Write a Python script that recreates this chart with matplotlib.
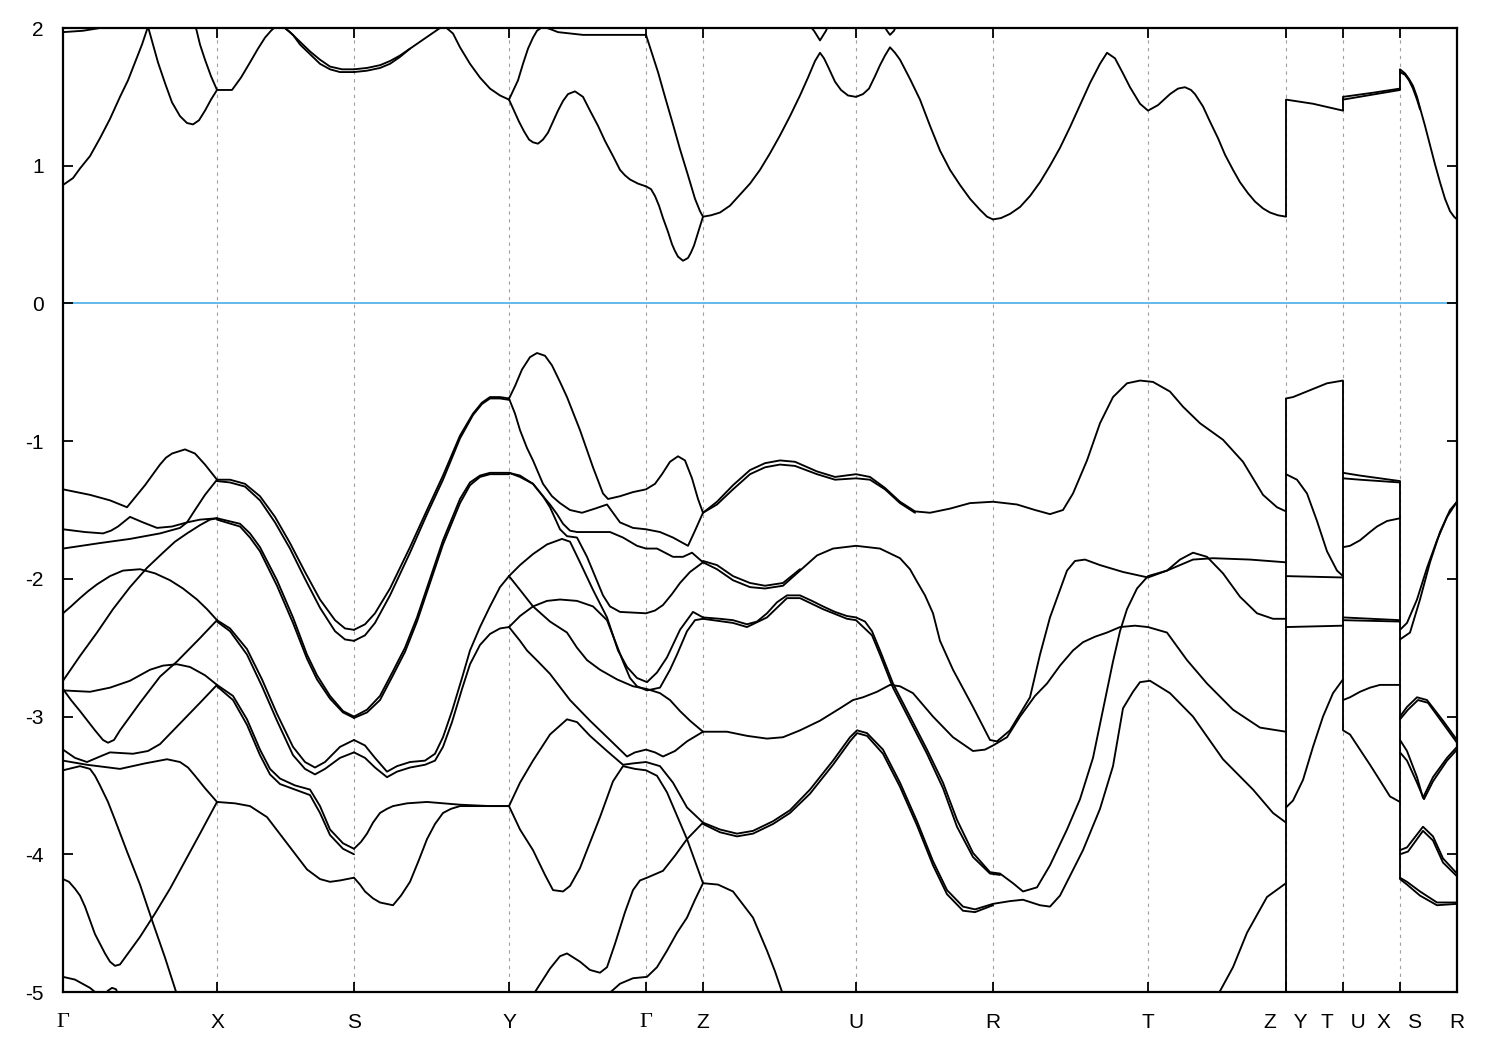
import matplotlib
matplotlib.use("Agg")
import matplotlib.pyplot as plt

# ---------------- k-path ----------------
kpath_ticks = [0.00, 1.54, 2.91, 4.46, 5.83, 6.40, 7.93, 9.30, 10.85, 12.23, 12.80, 13.37, 13.94]
kpath_labels = ["Γ", "X", "S", "Y", "Γ", "Z", "U", "R", "T", "Z   Y", "T   U", "X   S", "R"]
y_ticks = [-5, -4, -3, -2, -1, 0, 1, 2]

# ---------------- conduction bands (k, E) ----------------
c_gx1 = [(0, 0.86), (0.10, 0.91), (0.17, 0.98), (0.27, 1.07), (0.37, 1.20), (0.47, 1.34), (0.57, 1.50),
         (0.65, 1.62), (0.72, 1.75), (0.79, 1.88), (0.85, 2.01), (0.90, 1.88), (0.95, 1.75), (1.02, 1.60),
         (1.09, 1.46), (1.17, 1.36), (1.24, 1.31), (1.30, 1.30), (1.36, 1.33), (1.42, 1.40), (1.48, 1.48),
         (1.54, 1.55)]
c_gx2 = [(1.30, 2.08), (1.33, 2.0), (1.37, 1.88), (1.42, 1.77), (1.48, 1.65), (1.54, 1.55)]
c_gx3 = [(0, 1.97), (0.2, 1.98), (0.37, 2.0), (0.45, 2.03)]
c_xs = [(1.54, 1.55), (1.69, 1.55), (1.78, 1.64), (1.87, 1.75), (1.95, 1.85), (2.02, 1.93), (2.08, 1.98),
        (2.14, 2.02), (2.20, 2.01), (2.27, 1.97), (2.37, 1.90), (2.47, 1.83), (2.57, 1.77), (2.67, 1.72),
        (2.79, 1.70), (2.91, 1.70)]
c_xs_b = [(2.22, 2.0), (2.30, 1.95), (2.37, 1.88), (2.47, 1.81), (2.57, 1.74), (2.67, 1.70), (2.77, 1.68),
          (2.91, 1.68)]
c_sy = [(2.91, 1.70), (3.04, 1.71), (3.17, 1.73), (3.27, 1.76), (3.37, 1.80), (3.47, 1.85), (3.57, 1.90),
        (3.67, 1.95), (3.77, 2.0), (3.82, 2.01), (3.90, 1.96), (3.97, 1.86), (4.07, 1.74), (4.17, 1.64),
        (4.27, 1.56), (4.37, 1.51), (4.46, 1.48)]
c_sy_b = [(2.91, 1.68), (3.04, 1.69), (3.17, 1.71), (3.27, 1.74), (3.37, 1.79), (3.47, 1.85)]
c_yg1 = [(4.46, 1.48), (4.55, 1.62), (4.60, 1.74), (4.65, 1.85), (4.70, 1.93), (4.74, 1.98), (4.80, 2.01),
         (4.88, 1.99), (4.95, 1.97), (5.2, 1.95), (5.5, 1.95), (5.83, 1.95)]
c_yg2 = [(4.46, 1.48), (4.51, 1.40), (4.56, 1.32), (4.61, 1.25), (4.66, 1.19), (4.70, 1.17), (4.75, 1.16),
         (4.80, 1.19), (4.85, 1.24), (4.90, 1.32), (4.95, 1.40), (5.00, 1.47), (5.05, 1.52), (5.12, 1.54),
         (5.20, 1.50), (5.27, 1.40), (5.35, 1.29), (5.42, 1.18), (5.50, 1.07), (5.57, 0.97), (5.62, 0.93),
         (5.67, 0.90), (5.75, 0.87), (5.83, 0.85)]
c_gz1 = [(5.83, 1.95), (5.87, 1.86), (5.95, 1.68), (6.02, 1.50), (6.10, 1.30), (6.17, 1.12), (6.25, 0.93),
         (6.32, 0.76), (6.37, 0.67), (6.40, 0.63)]
c_gz2 = [(5.83, 0.85), (5.88, 0.83), (5.92, 0.78), (5.96, 0.71), (6.00, 0.62), (6.05, 0.52), (6.09, 0.43),
         (6.12, 0.38), (6.15, 0.34), (6.20, 0.31), (6.25, 0.33), (6.28, 0.37), (6.31, 0.42), (6.34, 0.49),
         (6.37, 0.56), (6.40, 0.63)]
c_zur = [(6.40, 0.63), (6.48, 0.64), (6.57, 0.66), (6.67, 0.71), (6.77, 0.79), (6.87, 0.87), (6.97, 0.97),
         (7.07, 1.09), (7.17, 1.22), (7.27, 1.36), (7.37, 1.51), (7.45, 1.64), (7.52, 1.76), (7.57, 1.82),
         (7.61, 1.78), (7.65, 1.72), (7.72, 1.61), (7.78, 1.55), (7.85, 1.51), (7.93, 1.50), (8.00, 1.52),
         (8.06, 1.56), (8.12, 1.65), (8.17, 1.73), (8.22, 1.80), (8.27, 1.86), (8.32, 1.82), (8.37, 1.77),
         (8.47, 1.63), (8.57, 1.48), (8.67, 1.29), (8.77, 1.11), (8.87, 0.97), (8.97, 0.86), (9.07, 0.76),
         (9.17, 0.68), (9.24, 0.63), (9.30, 0.61)]
c_v1 = [(7.45, 2.03), (7.51, 1.98), (7.57, 1.91), (7.63, 1.98), (7.66, 2.03)]
c_v2 = [(8.20, 2.03), (8.24, 1.98), (8.27, 1.95), (8.31, 1.98), (8.34, 2.03)]
c_rtz = [(9.30, 0.61), (9.38, 0.62), (9.47, 0.65), (9.57, 0.70), (9.67, 0.78), (9.77, 0.88), (9.87, 1.00),
         (9.97, 1.13), (10.07, 1.28), (10.17, 1.44), (10.27, 1.60), (10.37, 1.74), (10.44, 1.82),
         (10.52, 1.78), (10.60, 1.67), (10.67, 1.57), (10.77, 1.45), (10.85, 1.40), (10.95, 1.44),
         (11.07, 1.52), (11.15, 1.56), (11.22, 1.57), (11.28, 1.55), (11.32, 1.52), (11.40, 1.43),
         (11.47, 1.32), (11.55, 1.20), (11.62, 1.08), (11.70, 0.97), (11.77, 0.88), (11.85, 0.80),
         (11.92, 0.74), (12.00, 0.69), (12.07, 0.66), (12.15, 0.64), (12.23, 0.63)]
c_yt = [(12.23, 1.48), (12.50, 1.45), (12.80, 1.40)]
c_ux1 = [(12.80, 1.48), (13.37, 1.55)]
c_ux2 = [(12.80, 1.50), (13.10, 1.53), (13.37, 1.56)]
c_sr = [(13.37, 1.70), (13.42, 1.67), (13.46, 1.63), (13.50, 1.58), (13.54, 1.50), (13.57, 1.42),
        (13.62, 1.29), (13.67, 1.15), (13.72, 1.01), (13.77, 0.88), (13.82, 0.76), (13.87, 0.67),
        (13.91, 0.63), (13.94, 0.61)]
c_sr_b = [(13.37, 1.68), (13.42, 1.66), (13.46, 1.62), (13.50, 1.56), (13.54, 1.48), (13.57, 1.41)]

# ---------------- valence bands: Gamma - X ----------------
gx_a = [(0, -1.35), (0.27, -1.39), (0.47, -1.43), (0.64, -1.48), (0.73, -1.40), (0.82, -1.32), (0.90, -1.24),
        (0.97, -1.17), (1.03, -1.12), (1.09, -1.09), (1.22, -1.06), (1.32, -1.09), (1.42, -1.17), (1.54, -1.28)]
gx_b = [(0, -1.64), (0.22, -1.66), (0.40, -1.67), (0.48, -1.65), (0.55, -1.62), (0.67, -1.55), (0.80, -1.59),
        (0.94, -1.63), (1.09, -1.62), (1.24, -1.59), (1.37, -1.57), (1.54, -1.56)]
gx_c = [(0, -1.78), (0.37, -1.74), (0.67, -1.71), (0.97, -1.67), (1.17, -1.63), (1.24, -1.59), (1.32, -1.50),
        (1.42, -1.39), (1.54, -1.28)]
gx_d = [(0, -2.74), (0.17, -2.56), (0.34, -2.39), (0.50, -2.22), (0.67, -2.06), (0.84, -1.92), (1.00, -1.81),
        (1.12, -1.73), (1.24, -1.67), (1.37, -1.61), (1.47, -1.57), (1.54, -1.56)]
gx_e = [(0, -2.25), (0.08, -2.20), (0.17, -2.14), (0.25, -2.09), (0.34, -2.04), (0.47, -1.98), (0.60, -1.94),
        (0.77, -1.93), (0.92, -1.96), (1.07, -2.01), (1.20, -2.07), (1.34, -2.15), (1.44, -2.22), (1.54, -2.30)]
gx_f = [(0, -2.80), (0.08, -2.88), (0.17, -2.96), (0.32, -3.10), (0.40, -3.17), (0.45, -3.19), (0.51, -3.17),
        (0.57, -3.10), (0.77, -2.90), (0.97, -2.71), (1.14, -2.60), (1.37, -2.43), (1.54, -2.30)]
gx_g = [(0, -2.81), (0.27, -2.82), (0.47, -2.79), (0.67, -2.74), (0.87, -2.66), (1.00, -2.63), (1.14, -2.62),
        (1.27, -2.64), (1.42, -2.70), (1.54, -2.77)]
gx_h = [(0, -3.24), (0.12, -3.30), (0.24, -3.33), (0.37, -3.29), (0.47, -3.26), (0.70, -3.27), (0.85, -3.25),
        (0.97, -3.20), (1.17, -3.05), (1.37, -2.90), (1.54, -2.77)]
gx_i = [(0, -3.32), (0.24, -3.35), (0.57, -3.38), (0.82, -3.34), (1.04, -3.31), (1.17, -3.33), (1.25, -3.37),
        (1.32, -3.43), (1.42, -3.52), (1.54, -3.62)]
gx_k = [(0, -3.39), (0.17, -3.36), (0.27, -3.38), (0.32, -3.43), (0.37, -3.50), (0.45, -3.62), (0.52, -3.75),
        (0.64, -3.98), (0.77, -4.22), (0.90, -4.50), (1.02, -4.75), (1.14, -5.02)]
gx_l = [(0, -4.18), (0.06, -4.20), (0.12, -4.25), (0.17, -4.30), (0.22, -4.38), (0.32, -4.58), (0.42, -4.72),
        (0.47, -4.78), (0.52, -4.81), (0.57, -4.80), (0.62, -4.75), (0.77, -4.60), (0.92, -4.43),
        (1.07, -4.25), (1.22, -4.05), (1.37, -3.85), (1.54, -3.62)]
gx_m = [(0, -4.89), (0.12, -4.91), (0.27, -4.97), (0.37, -5.03)]
gx_m2 = [(0.40, -5.03), (0.45, -4.99), (0.49, -4.97), (0.53, -4.98), (0.57, -5.05)]

# ---------------- X - S ----------------
ks_xs = [1.54, 1.67, 1.82, 1.97, 2.12, 2.27, 2.42, 2.57, 2.72, 2.82, 2.91]
xs_1 = [-1.28, -1.28, -1.31, -1.40, -1.55, -1.74, -1.95, -2.15, -2.30, -2.36, -2.37]
xs_2 = [-1.29, -1.30, -1.33, -1.43, -1.59, -1.78, -2.00, -2.21, -2.38, -2.44, -2.45]
xs_3 = [(1.54, -1.56), (1.77, -1.60), (1.87, -1.67), (1.97, -1.77), (2.14, -2.01), (2.30, -2.28),
        (2.44, -2.55), (2.54, -2.70), (2.67, -2.85), (2.80, -2.96), (2.91, -3.00)]
xs_3b = [(1.54, -1.57), (1.77, -1.62), (1.87, -1.70), (1.97, -1.80), (2.14, -2.05), (2.30, -2.32),
         (2.44, -2.58), (2.54, -2.73), (2.67, -2.87), (2.80, -2.97), (2.91, -3.01)]
ks_xs4 = [1.54, 1.67, 1.84, 1.99, 2.14, 2.30, 2.42, 2.52, 2.62, 2.77, 2.91]
xs_4 = [-2.30, -2.36, -2.51, -2.73, -2.98, -3.22, -3.33, -3.37, -3.33, -3.22, -3.17]
xs_4b = [-2.31, -2.38, -2.55, -2.78, -3.03, -3.28, -3.38, -3.42, -3.38, -3.30, -3.26]
ks_xs5 = [1.54, 1.70, 1.84, 1.97, 2.07, 2.17, 2.32, 2.47, 2.57, 2.67, 2.80, 2.91]
xs_5 = [-2.77, -2.85, -3.02, -3.24, -3.38, -3.45, -3.50, -3.53, -3.65, -3.82, -3.92, -3.96]
xs_5b = [-2.78, -2.88, -3.06, -3.28, -3.42, -3.49, -3.53, -3.57, -3.70, -3.86, -3.96, -4.00]
xs_6 = [(1.54, -3.62), (1.72, -3.63), (1.87, -3.65), (2.04, -3.73), (2.24, -3.92), (2.44, -4.11), (2.57, -4.18),
        (2.67, -4.20), (2.77, -4.19), (2.91, -4.17)]

# ---------------- S - Y ----------------
ks_sy1 = [2.91, 3.02, 3.12, 3.27, 3.47, 3.64, 3.80, 3.97, 4.10, 4.19, 4.27, 4.37, 4.46]
sy_1 = [-2.37, -2.33, -2.25, -2.07, -1.77, -1.50, -1.25, -0.96, -0.80, -0.72, -0.68, -0.68, -0.69]
sy_2 = [-2.45, -2.41, -2.32, -2.12, -1.81, -1.53, -1.28, -0.98, -0.81, -0.73, -0.69, -0.69, -0.70]
ks_sy3 = [2.91, 3.04, 3.17, 3.30, 3.42, 3.54, 3.67, 3.80, 3.97, 4.07, 4.17, 4.27, 4.46]
sy_3 = [-3.00, -2.95, -2.85, -2.67, -2.50, -2.28, -2.00, -1.72, -1.42, -1.30, -1.25, -1.23, -1.23]
sy_3b = [-3.01, -2.97, -2.88, -2.70, -2.53, -2.31, -2.03, -1.75, -1.45, -1.32, -1.26, -1.24, -1.24]
ks_sy4 = [2.91, 3.02, 3.12, 3.24, 3.34, 3.47, 3.62, 3.72, 3.80, 3.89, 3.99, 4.07, 4.17, 4.27, 4.37, 4.46]
sy_4 = [-3.17, -3.21, -3.30, -3.40, -3.36, -3.33, -3.32, -3.27, -3.15, -2.96, -2.72, -2.52, -2.35, -2.20,
        -2.06, -1.98]
sy_5 = [-3.26, -3.30, -3.37, -3.44, -3.40, -3.37, -3.35, -3.32, -3.22, -3.04, -2.80, -2.62, -2.48, -2.40,
        -2.36, -2.35]
sy_7 = [(2.91, -3.96), (2.98, -3.91), (3.04, -3.85), (3.10, -3.77), (3.17, -3.70), (3.24, -3.67),
        (3.30, -3.65), (3.44, -3.63), (3.64, -3.62), (3.97, -3.64), (4.27, -3.65), (4.46, -3.65)]
sy_6 = [(2.91, -4.17), (2.97, -4.22), (3.02, -4.27), (3.10, -4.32), (3.17, -4.35), (3.30, -4.37),
        (3.38, -4.30), (3.47, -4.20), (3.56, -4.04), (3.64, -3.89), (3.72, -3.78), (3.80, -3.70),
        (3.88, -3.67), (3.97, -3.65), (4.46, -3.65)]

# ---------------- Y - Gamma - Z ----------------
yz_1 = [(4.46, -0.69), (4.52, -0.60), (4.59, -0.48), (4.67, -0.39), (4.74, -0.36), (4.82, -0.38), (4.89, -0.45),
        (4.97, -0.57), (5.04, -0.68), (5.17, -0.92), (5.30, -1.19), (5.40, -1.38), (5.45, -1.42), (5.57, -1.40),
        (5.70, -1.37), (5.83, -1.35), (5.92, -1.31), (5.99, -1.24), (6.07, -1.15), (6.15, -1.11), (6.22, -1.14),
        (6.29, -1.27), (6.35, -1.42), (6.40, -1.52)]
yz_2 = [(4.46, -0.69), (4.52, -0.80), (4.57, -0.92), (4.64, -1.05), (4.70, -1.14), (4.80, -1.31), (4.89, -1.40),
        (4.97, -1.45), (5.07, -1.50), (5.19, -1.52), (5.32, -1.49), (5.44, -1.46), (5.50, -1.52), (5.57, -1.59),
        (5.70, -1.63), (5.83, -1.64), (5.97, -1.66), (6.10, -1.70), (6.20, -1.74), (6.25, -1.76), (6.32, -1.65),
        (6.40, -1.52)]
yz_3 = [(4.46, -1.23), (4.57, -1.26), (4.70, -1.31), (4.80, -1.40), (4.87, -1.46), (4.94, -1.53), (5.00, -1.60),
        (5.07, -1.65), (5.14, -1.66), (5.27, -1.66), (5.47, -1.66), (5.60, -1.70), (5.74, -1.76), (5.83, -1.78),
        (5.94, -1.78), (6.10, -1.84), (6.20, -1.84), (6.29, -1.81), (6.40, -1.88)]
yz_4 = [(4.46, -1.23), (4.57, -1.25), (4.70, -1.31), (4.80, -1.40), (4.87, -1.48), (4.97, -1.64), (5.04, -1.69),
        (5.14, -1.70), (5.24, -1.84), (5.32, -1.98), (5.40, -2.12), (5.47, -2.20), (5.57, -2.24), (5.83, -2.25),
        (5.92, -2.23), (6.00, -2.19), (6.09, -2.11), (6.17, -2.03), (6.27, -1.95), (6.40, -1.88)]
yz_5 = [(4.46, -1.98), (4.57, -1.90), (4.70, -1.82), (4.84, -1.75), (4.99, -1.71), (5.07, -1.73), (5.17, -1.88),
        (5.30, -2.08), (5.44, -2.28), (5.55, -2.52), (5.64, -2.64), (5.74, -2.72), (5.84, -2.75), (5.94, -2.68),
        (6.04, -2.57), (6.17, -2.37), (6.30, -2.24), (6.40, -2.28)]
yz_5b = [(4.46, -2.35), (4.57, -2.27), (4.70, -2.20), (4.84, -2.16), (4.97, -2.15), (5.14, -2.16), (5.30, -2.20),
         (5.44, -2.30), (5.52, -2.45), (5.60, -2.60), (5.67, -2.72), (5.74, -2.78), (5.84, -2.81), (5.97, -2.79),
         (6.07, -2.66), (6.14, -2.55), (6.24, -2.38), (6.32, -2.30), (6.40, -2.29)]
yz_6 = [(4.46, -1.98), (4.57, -2.08), (4.70, -2.20), (4.87, -2.31), (5.04, -2.39), (5.14, -2.50), (5.24, -2.59),
        (5.37, -2.66), (5.54, -2.73), (5.70, -2.78), (5.84, -2.80), (5.97, -2.83), (6.07, -2.88), (6.17, -2.96),
        (6.27, -3.03), (6.40, -3.11)]
yz_7 = [(4.46, -2.35), (4.57, -2.45), (4.64, -2.52), (4.75, -2.60), (4.87, -2.69), (5.07, -2.88), (5.27, -3.03),
        (5.47, -3.17), (5.64, -3.29), (5.72, -3.26), (5.83, -3.24), (5.92, -3.26), (6.00, -3.29), (6.12, -3.25),
        (6.24, -3.18), (6.40, -3.11)]
yz_8 = [(4.46, -3.65), (4.57, -3.48), (4.70, -3.32), (4.87, -3.13), (5.04, -3.02), (5.14, -3.04), (5.27, -3.14),
        (5.44, -3.25), (5.60, -3.35), (5.70, -3.34), (5.83, -3.33), (5.97, -3.36), (6.10, -3.48), (6.24, -3.66),
        (6.40, -3.77)]
yz_9 = [(4.46, -3.65), (4.57, -3.82), (4.70, -3.97), (4.82, -4.15), (4.90, -4.26), (5.00, -4.27), (5.07, -4.23),
        (5.17, -4.10), (5.24, -3.97), (5.37, -3.73), (5.50, -3.47), (5.60, -3.36), (5.72, -3.38), (5.83, -3.39),
        (5.94, -3.43), (6.04, -3.55), (6.14, -3.72), (6.24, -3.89), (6.32, -4.05), (6.40, -4.21)]
yz_10 = [(4.67, -5.06), (4.72, -5.00), (4.87, -4.83), (4.97, -4.74), (5.04, -4.72), (5.17, -4.78), (5.27, -4.84),
         (5.37, -4.86), (5.44, -4.82), (5.52, -4.65), (5.62, -4.42), (5.70, -4.26), (5.77, -4.19), (5.84, -4.17),
         (6.00, -4.12), (6.12, -4.01), (6.24, -3.89), (6.40, -3.77)]
yz_11 = [(5.43, -5.03), (5.57, -4.94), (5.70, -4.90), (5.84, -4.89), (5.94, -4.82), (6.04, -4.70), (6.14, -4.57),
         (6.24, -4.46), (6.32, -4.33), (6.40, -4.21)]

# ---------------- Z - U - R - T - Z ----------------
zz_1 = [(6.40, -1.52), (6.54, -1.44), (6.70, -1.32), (6.87, -1.21), (7.02, -1.16), (7.17, -1.14), (7.32, -1.15),
        (7.54, -1.22), (7.72, -1.26), (7.93, -1.24), (8.07, -1.26), (8.22, -1.34), (8.37, -1.44), (8.52, -1.51),
        (8.67, -1.52), (8.87, -1.49), (9.07, -1.45), (9.30, -1.44), (9.54, -1.46), (9.72, -1.50), (9.87, -1.53),
        (10.00, -1.50), (10.10, -1.38), (10.24, -1.14), (10.37, -0.87), (10.50, -0.68), (10.64, -0.58),
        (10.77, -0.56), (10.90, -0.57), (11.07, -0.64), (11.20, -0.75), (11.37, -0.87), (11.60, -0.99),
        (11.80, -1.15), (12.00, -1.39), (12.14, -1.48), (12.23, -1.51)]
zz_1b = [(6.40, -1.52), (6.54, -1.46), (6.70, -1.35), (6.87, -1.24), (7.02, -1.19), (7.17, -1.17), (7.32, -1.18),
         (7.54, -1.24), (7.72, -1.28), (7.93, -1.27), (8.07, -1.28), (8.22, -1.35), (8.37, -1.45), (8.52, -1.52)]
zz_2 = [(6.40, -1.88), (6.54, -1.93), (6.70, -2.01), (6.87, -2.06), (7.02, -2.07), (7.20, -2.05), (7.37, -1.94),
        (7.54, -1.83), (7.70, -1.78), (7.93, -1.76), (8.17, -1.78), (8.37, -1.85), (8.47, -1.93), (8.54, -2.02),
        (8.62, -2.12), (8.70, -2.25), (8.77, -2.45), (8.90, -2.66), (9.10, -2.93), (9.27, -3.17), (9.34, -3.18),
        (9.47, -3.10), (9.67, -2.86), (9.77, -2.55), (9.87, -2.28), (10.04, -1.94), (10.12, -1.87),
        (10.22, -1.86), (10.37, -1.90), (10.60, -1.95), (10.85, -1.99), (11.04, -1.94), (11.30, -1.86),
        (11.50, -1.85), (11.87, -1.86), (12.23, -1.88)]
zz_2b = [(6.40, -1.87), (6.54, -1.90), (6.70, -1.98), (6.87, -2.03), (7.02, -2.05), (7.20, -2.03), (7.37, -1.93)]
zz_3 = [(6.40, -2.28), (6.57, -2.29), (6.70, -2.30), (6.84, -2.33), (6.94, -2.31), (7.04, -2.25), (7.14, -2.17),
        (7.24, -2.12), (7.37, -2.12), (7.49, -2.16), (7.60, -2.20), (7.72, -2.24), (7.84, -2.27), (7.93, -2.28),
        (8.02, -2.31), (8.09, -2.38), (8.17, -2.52), (8.30, -2.76), (8.47, -3.00), (8.64, -3.24), (8.80, -3.48),
        (8.94, -3.75), (9.10, -3.99), (9.27, -4.13), (9.37, -4.14), (9.50, -4.21), (9.60, -4.27), (9.74, -4.24),
        (9.87, -4.08), (10.04, -3.82), (10.17, -3.60), (10.30, -3.30), (10.40, -2.95), (10.50, -2.60),
        (10.57, -2.38), (10.64, -2.22), (10.74, -2.07), (10.85, -1.98), (11.04, -1.94), (11.17, -1.86),
        (11.30, -1.81), (11.44, -1.84), (11.60, -1.96), (11.77, -2.13), (11.94, -2.25), (12.10, -2.29),
        (12.23, -2.29)]
zz_3b = [(6.40, -2.29), (6.70, -2.32), (6.84, -2.35), (7.04, -2.28), (7.24, -2.14), (7.37, -2.14), (7.60, -2.22),
         (7.84, -2.29), (7.93, -2.30), (8.09, -2.41), (8.17, -2.55), (8.30, -2.79), (8.47, -3.03), (8.64, -3.27),
         (8.80, -3.52), (8.94, -3.80), (9.10, -4.02), (9.27, -4.14), (9.37, -4.15)]
zz_5 = [(6.40, -3.11), (6.64, -3.11), (6.84, -3.14), (7.04, -3.16), (7.20, -3.15), (7.37, -3.10), (7.57, -3.03),
        (7.77, -2.94), (7.90, -2.88), (8.00, -2.86), (8.14, -2.82), (8.27, -2.77), (8.37, -2.78), (8.50, -2.83),
        (8.70, -3.00), (8.90, -3.15), (9.10, -3.25), (9.22, -3.24), (9.30, -3.21), (9.44, -3.15), (9.57, -3.00),
        (9.72, -2.85), (9.84, -2.76), (9.97, -2.63), (10.10, -2.52), (10.20, -2.46), (10.32, -2.42),
        (10.44, -2.39), (10.57, -2.35), (10.72, -2.34), (10.85, -2.35), (11.04, -2.39), (11.24, -2.59),
        (11.44, -2.76), (11.70, -2.95), (11.97, -3.08), (12.23, -3.11)]
zz_4 = [(6.40, -3.77), (6.57, -3.82), (6.74, -3.85), (6.90, -3.83), (7.10, -3.76), (7.27, -3.68), (7.47, -3.53),
        (7.70, -3.32), (7.87, -3.15), (7.94, -3.10), (8.04, -3.12), (8.20, -3.24), (8.37, -3.48), (8.54, -3.76),
        (8.70, -4.05), (8.84, -4.26), (9.00, -4.38), (9.12, -4.40), (9.30, -4.36), (9.47, -4.34), (9.60, -4.33),
        (9.77, -4.37), (9.87, -4.38), (9.97, -4.30), (10.04, -4.20), (10.20, -3.97), (10.37, -3.67),
        (10.50, -3.36), (10.60, -2.94), (10.70, -2.82), (10.77, -2.75), (10.87, -2.74), (11.07, -2.83),
        (11.30, -3.00), (11.60, -3.31), (11.90, -3.53), (12.10, -3.70), (12.23, -3.77)]
zz_4b = [(6.40, -3.78), (6.57, -3.84), (6.74, -3.87), (6.90, -3.85), (7.10, -3.78), (7.27, -3.70), (7.47, -3.56),
         (7.70, -3.35), (7.87, -3.18), (7.94, -3.12), (8.04, -3.14), (8.20, -3.27), (8.37, -3.51), (8.54, -3.79),
         (8.70, -4.08), (8.84, -4.29), (9.00, -4.41), (9.12, -4.42), (9.30, -4.37)]
zz_6 = [(6.40, -4.21), (6.55, -4.22), (6.70, -4.27), (6.90, -4.46), (7.04, -4.70), (7.12, -4.85), (7.20, -5.02)]
zz_7 = [(11.55, -5.02), (11.70, -4.82), (11.84, -4.57), (12.04, -4.31), (12.23, -4.21)]

# ---------------- Y - T ----------------
yt_1 = [(12.23, -0.69), (12.30, -0.68), (12.47, -0.63), (12.64, -0.58), (12.80, -0.56)]
yt_2 = [(12.23, -1.24), (12.34, -1.28), (12.44, -1.38), (12.54, -1.58), (12.64, -1.80), (12.74, -1.94),
        (12.80, -1.98)]
yt_3 = [(12.23, -1.98), (12.80, -1.99)]
yt_4 = [(12.23, -2.35), (12.80, -2.34)]
yt_5 = [(12.23, -3.66), (12.30, -3.61), (12.40, -3.46), (12.50, -3.22), (12.60, -3.00), (12.70, -2.83),
        (12.80, -2.73)]

# ---------------- U - X ----------------
ux_1 = [(12.80, -1.23), (12.97, -1.25), (13.17, -1.27), (13.37, -1.29)]
ux_2 = [(12.80, -1.27), (12.97, -1.28), (13.17, -1.29), (13.37, -1.30)]
ux_3 = [(12.80, -1.77), (12.87, -1.76), (12.97, -1.72), (13.07, -1.66), (13.14, -1.62), (13.24, -1.58),
        (13.37, -1.56)]
ux_4 = [(12.80, -2.28), (13.37, -2.30)]
ux_4b = [(12.80, -2.30), (13.37, -2.31)]
ux_5 = [(12.80, -2.88), (12.87, -2.86), (12.97, -2.82), (13.07, -2.79), (13.17, -2.77), (13.37, -2.77)]
ux_6 = [(12.80, -3.10), (12.87, -3.13), (12.97, -3.24), (13.07, -3.35), (13.14, -3.43), (13.27, -3.58),
        (13.37, -3.62)]

# ---------------- S - R ----------------
sr_1 = [(13.37, -2.37), (13.44, -2.32), (13.54, -2.15), (13.64, -1.92), (13.74, -1.72), (13.84, -1.55),
        (13.94, -1.44)]
sr_2 = [(13.37, -2.44), (13.47, -2.39), (13.57, -2.15), (13.67, -1.88), (13.77, -1.66), (13.87, -1.50),
        (13.94, -1.44)]
sr_3 = [(13.37, -3.00), (13.44, -2.93), (13.54, -2.86), (13.64, -2.88), (13.80, -3.03), (13.94, -3.17)]
sr_4 = [(13.37, -3.02), (13.45, -2.95), (13.55, -2.88), (13.65, -2.90), (13.81, -3.06), (13.94, -3.19)]
sr_5 = [(13.37, -3.17), (13.44, -3.25), (13.54, -3.44), (13.60, -3.59), (13.70, -3.44), (13.84, -3.30),
        (13.94, -3.22)]
sr_6 = [(13.37, -3.26), (13.44, -3.32), (13.54, -3.48), (13.61, -3.60), (13.70, -3.47), (13.84, -3.32),
        (13.94, -3.24)]
sr_7 = [(13.37, -3.97), (13.44, -3.95), (13.60, -3.80), (13.70, -3.87), (13.80, -4.03), (13.94, -4.14)]
sr_8 = [(13.37, -4.00), (13.45, -3.98), (13.60, -3.83), (13.70, -3.90), (13.80, -4.06), (13.94, -4.16)]
sr_9 = [(13.37, -4.17), (13.44, -4.20), (13.57, -4.27), (13.74, -4.35), (13.94, -4.35)]
sr_10 = [(13.37, -4.18), (13.44, -4.22), (13.57, -4.30), (13.74, -4.37), (13.94, -4.36)]

# ---------------- discontinuity jumps (Z|Y, T|U, X|S) ----------------
jump_k = [12.23, 12.80, 13.37]
jump_val_top = [-0.69, -0.56, -1.29]
jump_val_bottom = [-5.0, -3.10, -4.18]
jump_cond_low = [0.63, 1.40, 1.55]
jump_cond_high = [1.48, 1.50, 1.70]

# ---------------- assemble ----------------
point_curves = [c_gx1, c_gx2, c_gx3, c_xs, c_xs_b, c_sy, c_sy_b, c_yg1, c_yg2, c_gz1, c_gz2, c_zur, c_v1, c_v2,
                c_rtz, c_yt, c_ux1, c_ux2, c_sr, c_sr_b,
                gx_a, gx_b, gx_c, gx_d, gx_e, gx_f, gx_g, gx_h, gx_i, gx_k, gx_l, gx_m, gx_m2,
                xs_3, xs_3b, xs_6, sy_7, sy_6,
                yz_1, yz_2, yz_3, yz_4, yz_5, yz_5b, yz_6, yz_7, yz_8, yz_9, yz_10, yz_11,
                zz_1, zz_1b, zz_2, zz_2b, zz_3, zz_3b, zz_5, zz_4, zz_4b, zz_6, zz_7,
                yt_1, yt_2, yt_3, yt_4, yt_5, ux_1, ux_2, ux_3, ux_4, ux_4b, ux_5, ux_6,
                sr_1, sr_2, sr_3, sr_4, sr_5, sr_6, sr_7, sr_8, sr_9, sr_10]
grid_curves = [(ks_xs, xs_1), (ks_xs, xs_2), (ks_xs4, xs_4), (ks_xs4, xs_4b), (ks_xs5, xs_5), (ks_xs5, xs_5b),
               (ks_sy1, sy_1), (ks_sy1, sy_2), (ks_sy3, sy_3), (ks_sy3, sy_3b), (ks_sy4, sy_4), (ks_sy4, sy_5)]

plt.rcParams['font.family'] = ['Liberation Sans', 'DejaVu Sans']
fig = plt.figure(figsize=(15, 10.5), dpi=100)
ax = fig.add_axes([63 / 1500, 58 / 1050, 1394 / 1500, 964 / 1050])

band_kw = dict(color='black', lw=1.35, solid_joinstyle='round', solid_capstyle='round')
for curve in point_curves:
    ks = [p[0] for p in curve]
    es = [p[1] for p in curve]
    ax.plot(ks, es, **band_kw)
for ks, es in grid_curves:
    ax.plot(ks, es, **band_kw)

ax.vlines(jump_k, jump_val_bottom, jump_val_top, color='black', lw=1.35)
ax.vlines(jump_k, jump_cond_low, jump_cond_high, color='black', lw=1.35)

for kt in kpath_ticks[1:-1]:
    ax.axvline(kt, color='#a0a0a0', lw=0.8, ls=(0, (3, 4)), zorder=0)
ax.axhline(0, color='#56b4e9', lw=1.3, zorder=1)

ax.set_xlim(kpath_ticks[0], kpath_ticks[-1])
ax.set_ylim(-5, 2)
ax.set_xticks(kpath_ticks)
ax.set_xticklabels(kpath_labels)
ax.set_yticks(y_ticks)
ax.set_yticklabels([str(v) for v in y_ticks])
ax.tick_params(axis='both', direction='in', length=7, width=1.3, labelsize=15, top=True, right=True)
ax.tick_params(axis='x', pad=15)
ax.tick_params(axis='y', pad=14)
for lab in ax.get_xticklabels():
    if lab.get_text() == "Γ":
        lab.set_fontfamily(['Liberation Serif', 'DejaVu Serif'])
        lab.set_fontsize(16)
for sp in ax.spines.values():
    sp.set_linewidth(1.6)

fig.savefig("out.png", dpi=100)
